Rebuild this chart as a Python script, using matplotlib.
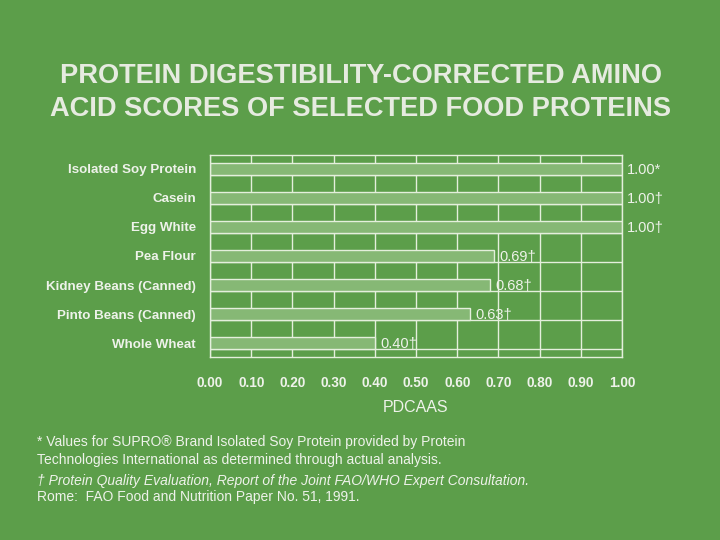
import matplotlib
matplotlib.use("Agg")
import matplotlib.pyplot as plt

plt.rcParams['font.family'] = ['Liberation Sans', 'DejaVu Sans']

categories = ["Isolated Soy Protein", "Casein", "Egg White", "Pea Flour",
              "Kidney Beans (Canned)", "Pinto Beans (Canned)", "Whole Wheat"]
values = [1.00, 1.00, 1.00, 0.69, 0.68, 0.63, 0.40]
value_labels = ["1.00*", "1.00\u2020", "1.00\u2020", "0.69\u2020", "0.68\u2020", "0.63\u2020", "0.40\u2020"]
xticks = [0.0, 0.1, 0.2, 0.3, 0.4, 0.5, 0.6, 0.7, 0.8, 0.9, 1.0]
xtick_labels = ["0.00", "0.10", "0.20", "0.30", "0.40", "0.50", "0.60", "0.70", "0.80", "0.90", "1.00"]

BG = "#5c9e4a"
BAR = "#86b875"
LINE = "#e4efdc"
TXT = "#eef2ea"
TITLE = "#e6ebe0"

fig = plt.figure(figsize=(7.2, 5.4), dpi=100, facecolor=BG)
ax = fig.add_axes([210/720, 1-357/540, 412/720, 202/540], facecolor=BG)

y = list(range(len(categories)))
bh = 0.42
for xv in xticks:
    ax.axvline(xv, color=LINE, lw=1.0, zorder=1)
for yi in y:
    ax.axhline(yi + bh/2, color=LINE, lw=1.0, zorder=1)
ax.barh(y, values, height=bh, color=BAR, edgecolor=LINE, linewidth=1.0, zorder=2)

for yi, v, lab in zip(y, values, value_labels):
    ax.text(v + 0.013, yi + 0.03, lab, color=TXT, fontsize=10.5, va='center', ha='left', clip_on=False)

ax.set_xlim(0, 1)
ax.set_ylim(6.48, -0.48)
ax.set_yticks(y)
ax.set_yticklabels(categories, fontsize=9.6, fontweight='bold', color=TXT)
ax.set_xticks(xticks)
ax.set_xticklabels(xtick_labels, fontsize=9.8, fontweight='bold', color=TXT)
ax.tick_params(axis='x', length=0, pad=14)
ax.tick_params(axis='y', length=0, pad=10)
for s in ax.spines.values():
    s.set_color(LINE)
    s.set_linewidth(1.0)

fig.text(416/720, 1-408/540, "PDCAAS", color=TXT, fontsize=11.5, ha='center', va='center')

fig.text(361/720, 1-76/540, "PROTEIN DIGESTIBILITY-CORRECTED AMINO", color=TITLE,
         fontsize=19.6, fontweight='bold', ha='center', va='center')
fig.text(361/720, 1-109/540, "ACID SCORES OF SELECTED FOOD PROTEINS", color=TITLE,
         fontsize=19.6, fontweight='bold', ha='center', va='center')

fs = 10
fig.text(37/720, 1-442/540, "* Values for SUPRO\u00ae Brand Isolated Soy Protein provided by Protein",
         color=TXT, fontsize=fs, ha='left', va='center')
fig.text(37/720, 1-460/540, "Technologies International as determined through actual analysis.",
         color=TXT, fontsize=fs, ha='left', va='center')
fig.text(37/720, 1-481/540, "\u2020 Protein Quality Evaluation, Report of the Joint FAO/WHO Expert Consultation.",
         color=TXT, fontsize=fs, style='italic', ha='left', va='center')
fig.text(37/720, 1-497/540, "Rome:  FAO Food and Nutrition Paper No. 51, 1991.",
         color=TXT, fontsize=fs, ha='left', va='center')

fig.savefig("out.png", dpi=100, facecolor=BG)
